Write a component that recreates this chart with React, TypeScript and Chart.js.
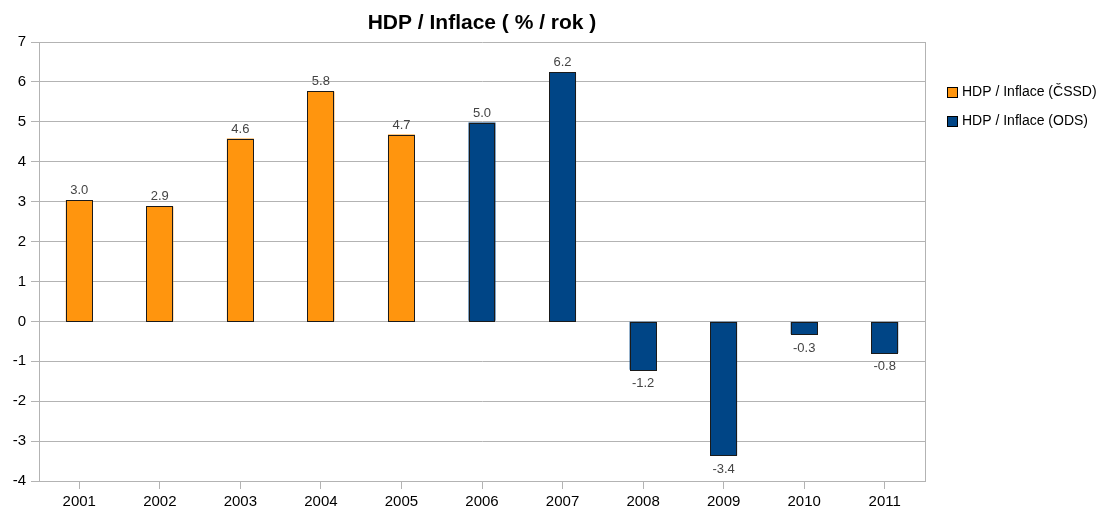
import React, { useEffect, useRef } from "react";
import { Chart, registerables } from "chart.js";

Chart.register(...registerables);

const title = "HDP / Inflace ( % / rok )";
const years = ["2001", "2002", "2003", "2004", "2005", "2006", "2007", "2008", "2009", "2010", "2011"];
const cssdLabel = "HDP / Inflace (ČSSD)";
const odsLabel = "HDP / Inflace (ODS)";
const cssdValues: (number | null)[] = [3.04, 2.88, 4.58, 5.76, 4.68, null, null, null, null, null, null];
const odsValues: (number | null)[] = [null, null, null, null, null, 4.98, 6.24, -1.21, -3.36, -0.32, -0.79];
const cssdColor = "#ff950e";
const odsColor = "#004586";

const FONT = '"Liberation Sans", Arial, sans-serif';
const GRID = "#b3b3b3";

const decorPlugin = {
  id: "decor",
  afterDatasetsDraw(chart: any) {
    const { ctx } = chart;
    ctx.save();
    chart.data.datasets.forEach((ds: any, di: number) => {
      const meta = chart.getDatasetMeta(di);
      meta.data.forEach((el: any, i: number) => {
        const v = ds.data[i];
        if (v === null || v === undefined) return;
        const p = el.getProps(["x", "y", "base", "width"], true);
        const l = Math.round(p.x - p.width / 2);
        const r = Math.round(p.x + p.width / 2);
        const t = Math.round(Math.min(p.y, p.base));
        const b = Math.round(Math.max(p.y, p.base));
        ctx.fillStyle = ds.backgroundColor;
        ctx.fillRect(l, t, r - l, b - t);
        ctx.strokeStyle = "#1a1a1a";
        ctx.lineWidth = 1;
        ctx.strokeRect(l + 0.5, t + 0.5, r - l - 1, b - t);
      });
    });
    ctx.restore();
  },
  afterDraw(chart: any) {
    const { ctx, chartArea } = chart;
    ctx.save();
    // right border
    ctx.strokeStyle = GRID;
    ctx.lineWidth = 1;
    ctx.beginPath();
    ctx.moveTo(Math.round(chartArea.right) + 0.5, chartArea.top);
    ctx.lineTo(Math.round(chartArea.right) + 0.5, chartArea.bottom);
    ctx.stroke();

    // title
    ctx.fillStyle = "#000";
    ctx.font = `bold 21px ${FONT}`;
    ctx.textAlign = "center";
    ctx.textBaseline = "alphabetic";
    ctx.fillText(title, (chartArea.left + chartArea.right) / 2, 28.5);

    // data labels
    ctx.font = `13px ${FONT}`;
    ctx.fillStyle = "#444";
    chart.data.datasets.forEach((ds: any, di: number) => {
      const meta = chart.getDatasetMeta(di);
      meta.data.forEach((el: any, i: number) => {
        const v = ds.data[i];
        if (v === null || v === undefined) return;
        const txt = v.toFixed(1);
        if (v >= 0) {
          ctx.fillText(txt, el.x, el.y - 6);
        } else {
          ctx.fillText(txt, el.x, el.y + 17.5);
        }
      });
    });

    // legend
    const items = [
      { label: cssdLabel, color: cssdColor, cy: 91.5 },
      { label: odsLabel, color: odsColor, cy: 121 },
    ];
    ctx.font = `14px ${FONT}`;
    ctx.textAlign = "left";
    ctx.textBaseline = "middle";
    items.forEach((it) => {
      const bx = 947.5;
      const by = Math.round(it.cy - 5) + 0.5;
      ctx.fillStyle = it.color;
      ctx.fillRect(bx, by, 10, 10);
      ctx.strokeStyle = "#000";
      ctx.lineWidth = 1;
      ctx.strokeRect(bx, by, 10, 10);
      ctx.fillStyle = "#000";
      ctx.fillText(it.label, 962, it.cy + 0.5);
    });
    ctx.restore();
  },
};

export default function App() {
  const ref = useRef<HTMLCanvasElement | null>(null);
  useEffect(() => {
    if (!ref.current) return;
    const chart = new Chart(ref.current, {
      type: "bar",
      data: {
        labels: years,
        datasets: [
          {
            label: cssdLabel,
            data: cssdValues,
            backgroundColor: cssdColor,
            borderWidth: 0,
            barPercentage: 0.335,
            categoryPercentage: 1,
          },
          {
            label: odsLabel,
            data: odsValues,
            backgroundColor: odsColor,
            borderWidth: 0,
            barPercentage: 0.335,
            categoryPercentage: 1,
          },
        ],
      },
      options: {
        animation: false,
        responsive: false,
        maintainAspectRatio: false,
        devicePixelRatio: 1,
        layout: { padding: { top: 42, right: 172, left: 0, bottom: 0 } },
        plugins: {
          legend: { display: false },
          title: { display: false },
          tooltip: { enabled: false },
        },
        scales: {
          x: {
            stacked: true,
            grid: {
              offset: false,
              drawOnChartArea: false,
              drawTicks: true,
              tickLength: 8,
              color: GRID,
            },
            border: { color: GRID },
            ticks: { color: "#000", font: { family: FONT, size: 15 }, padding: 4, maxRotation: 0 },
            afterFit: (s: any) => {
              s.height = 30;
            },
          },
          y: {
            min: -4,
            max: 7,
            ticks: { stepSize: 1, color: "#000", font: { family: FONT, size: 15 }, padding: 5 },
            grid: { color: GRID, tickLength: 8 },
            border: { color: GRID },
            afterFit: (s: any) => {
              s.width = 39;
            },
          },
        },
      },
      plugins: [decorPlugin],
    });
    return () => chart.destroy();
  }, []);
  return (
    <div style={{ position: "absolute", left: 0, top: 0, width: 1097, height: 511, background: "#fff" }}>
      <canvas ref={ref} width={1097} height={511} style={{ width: 1097, height: 511 }} />
    </div>
  );
}
